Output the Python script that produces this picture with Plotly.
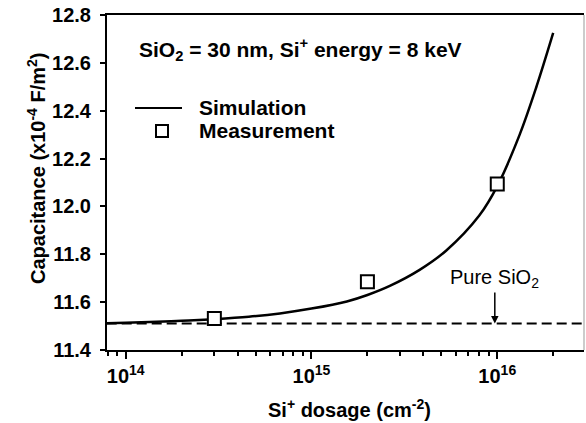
import numpy as np
import plotly.graph_objects as go

# ---- data ----
sim_dose = [7.9e13, 1e14, 1.34e14, 2e14, 3e14, 4.6e14, 6.76e14, 1e15, 1.55e15, 2e15,
            2.64e15, 3.82e15, 5.3e15, 8e15, 1e16, 1.32e16, 1.62e16, 2e16]
sim_cap = [11.512, 11.514, 11.517, 11.522, 11.529, 11.539, 11.553, 11.573, 11.603, 11.630,
           11.668, 11.735, 11.815, 11.962, 12.085, 12.300, 12.497, 12.725]
meas_dose = [3e14, 2e15, 1e16]
meas_cap = [11.532, 11.685, 12.094]
pure_dose = [7.9e13, 2.93e16]
pure_cap = [11.511, 11.511]
x_major = [1e14, 1e15, 1e16]
x_major_text = ["<b>10<sup>14</sup></b>", "<b>10<sup>15</sup></b>", "<b>10<sup>16</sup></b>"]
x_minor = [m * 10 ** e for e in (13, 14, 15, 16) for m in range(2, 10)]
y_ticks = [11.4, 11.6, 11.8, 12.0, 12.2, 12.4, 12.6, 12.8]

FONT = "Liberation Sans, Arial, sans-serif"
W, H = 586, 423
L, R, T, B = 107, 2, 15, 73
pw, ph = W - L - R, H - T - B


def px(x):
    return (x - L) / pw


def py(y):
    return (H - B - y) / ph


fig = go.Figure()
fig.add_trace(go.Scatter(x=pure_dose, y=pure_cap, mode="lines",
                         line=dict(color="black", width=2, dash="10px,5px"),
                         showlegend=False, hoverinfo="skip"))
fig.add_trace(go.Scatter(x=sim_dose, y=sim_cap, mode="lines",
                         line=dict(color="black", width=2.5, shape="spline", smoothing=1.0),
                         name="Simulation", showlegend=False))
fig.add_trace(go.Scatter(x=meas_dose, y=meas_cap, mode="markers",
                         marker=dict(symbol="square", size=13, color="white",
                                     line=dict(color="black", width=2)),
                         name="Measurement", showlegend=False))

fig.update_layout(
    width=W, height=H,
    margin=dict(l=L, r=R, t=T, b=B),
    paper_bgcolor="white", plot_bgcolor="white",
    font=dict(family=FONT, color="black"),
    showlegend=False,
)
fig.update_xaxes(
    type="log", range=[np.log10(7.93e13), np.log10(2.93e16)],
    tickmode="array", tickvals=x_major, ticktext=x_major_text,
    ticks="outside", ticklen=7, tickwidth=2, tickcolor="black",
    tickfont=dict(family=FONT, size=20, color="black"),
    showline=True, linecolor="black", linewidth=2, mirror=True,
    showgrid=False, zeroline=False,
    minor=dict(tickmode="array", tickvals=x_minor, ticks="outside",
               ticklen=4, tickwidth=1.5, tickcolor="black", showgrid=False),
)
fig.update_yaxes(
    range=[11.4, 12.8], tickmode="array", tickvals=y_ticks,
    ticktext=["<b>%.1f</b>" % v for v in y_ticks],
    ticks="outside", ticklen=5, tickwidth=2, tickcolor="black",
    tickfont=dict(family=FONT, size=20, color="black"),
    ticklabelstandoff=5,
    showline=True, linecolor="black", linewidth=2,
    showgrid=False, zeroline=False,
)

shapes = [
    dict(type="line", xref="paper", yref="paper", x0=1, x1=1, y0=0, y1=1,
         line=dict(color="#999999", width=1)),
    # legend entries
    dict(type="line", xref="paper", yref="paper", x0=px(135), x1=px(182),
         y0=py(108), y1=py(108), line=dict(color="black", width=2)),
    dict(type="rect", xref="paper", yref="paper", xsizemode="pixel", ysizemode="pixel",
         xanchor=px(162), yanchor=py(131), x0=-6, x1=6, y0=-6, y1=6,
         line=dict(color="black", width=2), fillcolor="white"),
]
fig.update_layout(shapes=shapes)

ann = [
    dict(text="<b>SiO<sub>2</sub> = 30 nm, Si<sup>+</sup> energy = 8 keV</b>",
         xref="paper", yref="paper", x=px(137), y=py(50), xanchor="left", yanchor="middle",
         showarrow=False, font=dict(family=FONT, size=21, color="black")),
    dict(text="<b>Simulation</b>", xref="paper", yref="paper", x=px(197), y=py(107.5),
         xanchor="left", yanchor="middle", showarrow=False,
         font=dict(family=FONT, size=21, color="black")),
    dict(text="<b>Measurement</b>", xref="paper", yref="paper", x=px(197), y=py(130),
         xanchor="left", yanchor="middle", showarrow=False,
         font=dict(family=FONT, size=21, color="black")),
    dict(text="Pure SiO<sub>2</sub>", xref="x", yref="y", x=np.log10(9.7e15), y=11.511,
         ax=0, ay=-45, showarrow=True, arrowhead=2, arrowsize=1, arrowwidth=1.5,
         arrowcolor="black", font=dict(family=FONT, size=20, color="black")),
    dict(text="<b>Capacitance (x10<sup>-4</sup> F/m<sup>2</sup>)</b>", xref="paper", yref="paper",
         x=px(36), y=py(169), textangle=-90, showarrow=False, xanchor="center", yanchor="middle",
         font=dict(family=FONT, size=20, color="black")),
    dict(text="<b>Si<sup>+</sup> dosage (cm<sup>-2</sup>)</b>", xref="paper", yref="paper",
         x=px(349.5), y=py(408), showarrow=False, xanchor="center", yanchor="middle",
         font=dict(family=FONT, size=20, color="black")),
]
fig.update_layout(annotations=ann)

fig.write_html("out.html", config=dict(displayModeBar=False),
               post_script="document.body.style.margin='0px';document.body.style.overflow='hidden';")
